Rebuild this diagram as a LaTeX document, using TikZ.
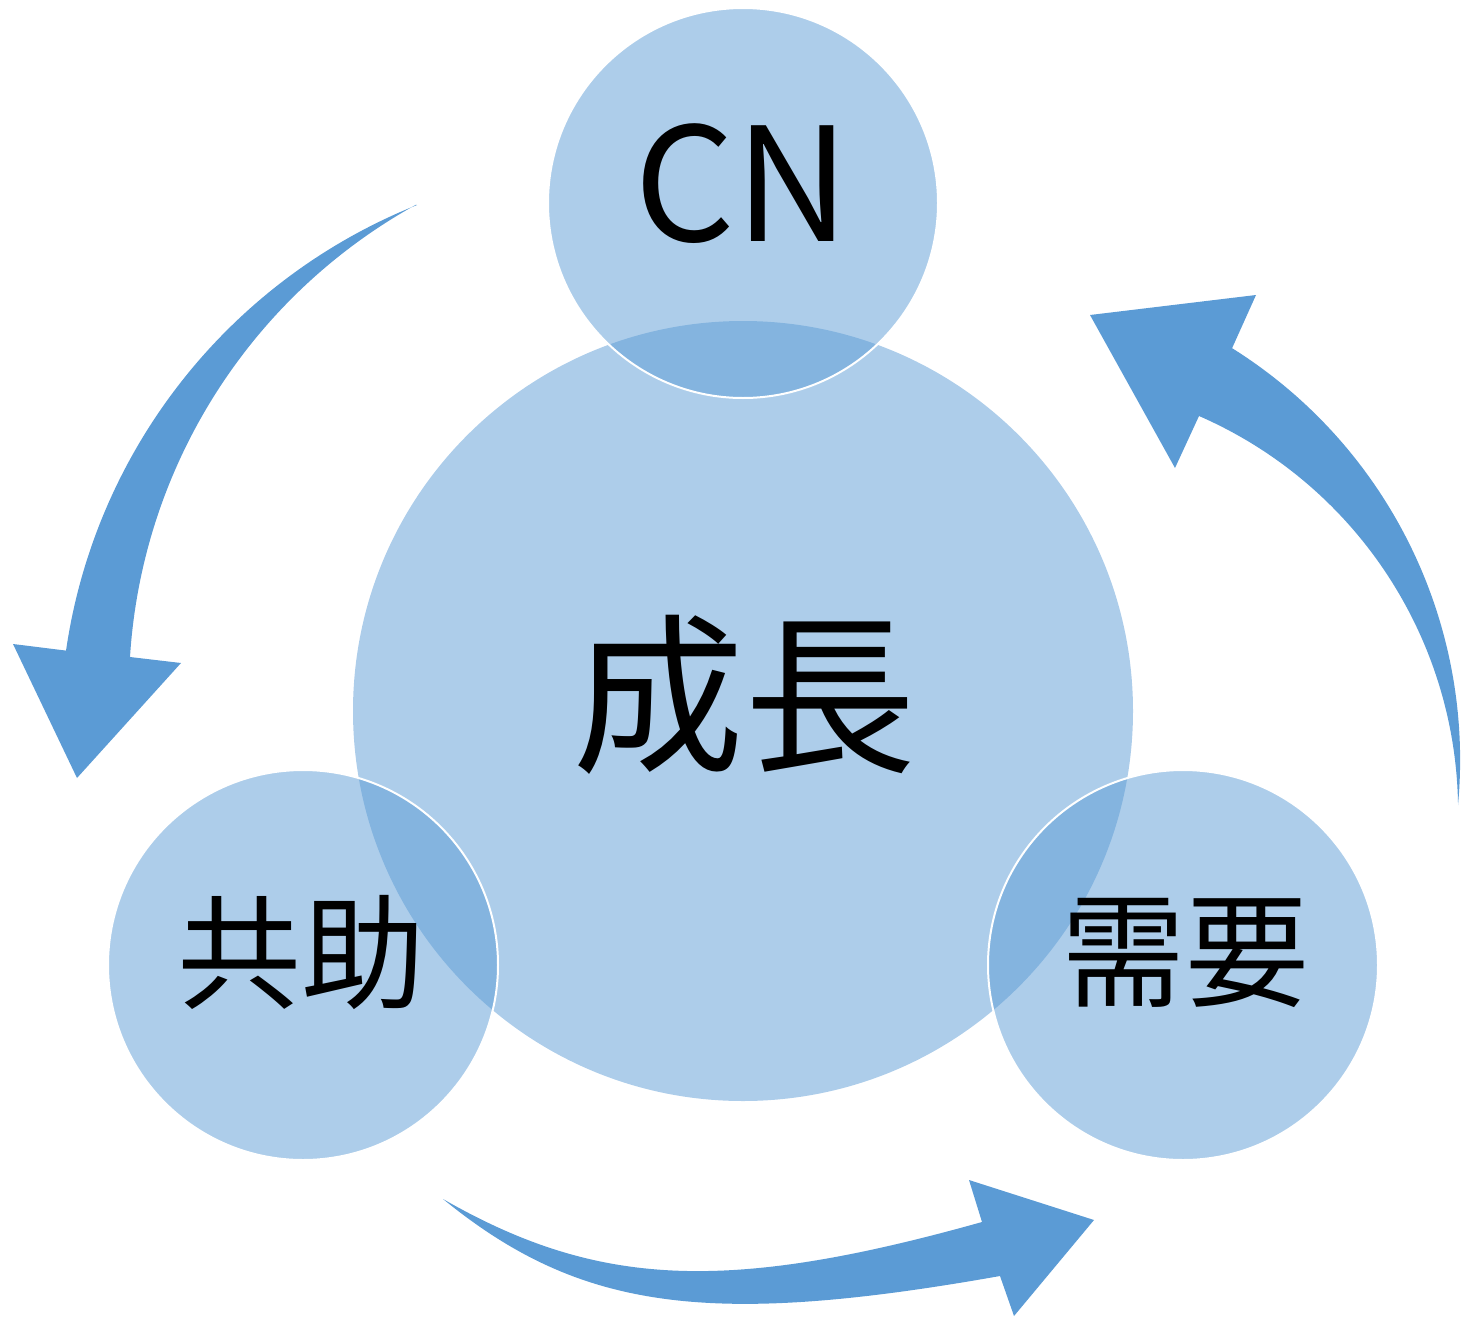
\documentclass[tikz,border=0pt]{standalone}
\usepackage{fontspec}
\setmainfont{Noto Sans CJK JP}
\definecolor{accent}{HTML}{5B9BD5}
\tikzset{
  bigdisc/.style={circle, fill=accent, fill opacity=0.5, draw=none, inner sep=0pt, minimum size=780pt},
  smalldisc/.style={circle, fill=accent, fill opacity=0.5, draw=white, draw opacity=1, line width=2pt, inner sep=0pt, minimum size=390pt},
  blockarrow/.style={fill=accent, draw=none},
  lbl/.style={inner sep=0pt, text=black}
}
\begin{document}
\begin{tikzpicture}[x=1pt,y=-1pt]
\useasboundingbox (0,0) rectangle (1462,1317);
\clip (0,0) rectangle (1462,1317);

% circles
\node[bigdisc] (growth) at (743,711) {};
\node[smalldisc] (cn) at (743,203) {};
\node[smalldisc] (kyojo) at (303,965) {};
\node[smalldisc] (juyo) at (1183,965) {};

% labels
\node[lbl, font=\fontsize{172}{172}\selectfont] (tgrowth) at (744,695) {成長};
\node[lbl, font=\fontsize{158}{158}\selectfont] (tcn) at (742,184) {CN};
\node[lbl, font=\fontsize{124}{124}\selectfont] (tkyojo) at (301,952) {共助};
\node[lbl, font=\fontsize{124}{124}\selectfont] (tjuyo) at (1185,953) {需要};

% arrow CN -> kyojo (left)
\coordinate (a1tail) at (417,205);
\fill[blockarrow] (a1tail)
  arc[start angle=-111.82, end angle=-171.73, radius=568]
  -- (13,644) -- (77,778) -- (181,663) -- (130,657)
  arc[start angle=-176.4, end angle=-119.0, radius=557]
  -- cycle;

% arrow juyo -> CN (right)
\coordinate (a2tail) at (1458,805);
\fill[blockarrow] (a2tail)
  arc[start angle=5.31, end angle=-57.94, radius=486]
  -- (1256,295) -- (1090,315) -- (1175,468) -- (1199,416)
  arc[start angle=-66.44, end angle=-0.88, radius=431.6]
  -- cycle;

% arrow kyojo -> juyo (bottom)
\coordinate (a3tail) at (443,1199);
\fill[blockarrow] (a3tail)
  .. controls (598,1287.9) and (727.4,1293.4) .. (982,1222)
  -- (969,1180) -- (1094,1220) -- (1014,1316) -- (1000,1276)
  .. controls (707.6,1327.8) and (579.5,1310.2) .. (a3tail)
  -- cycle;
\end{tikzpicture}
\end{document}
